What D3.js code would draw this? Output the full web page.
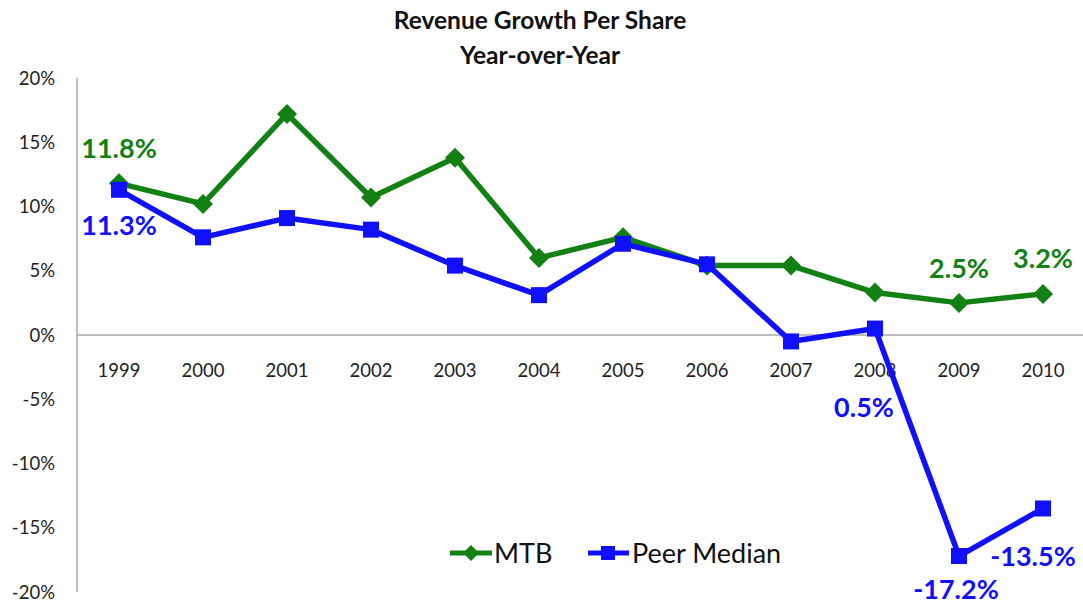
<!DOCTYPE html>
<html><head><meta charset="utf-8">
<script src="https://cdn.jsdelivr.net/npm/d3@7"></script>
<style>body{margin:0;background:#fff;} text{font-family:Lato,"Open Sans",sans-serif;}</style>
</head><body><svg id="c" width="1083" height="606"></svg>
<script>
const years = ["1999","2000","2001","2002","2003","2004","2005","2006","2007","2008","2009","2010"];
const mtb = [11.8,10.2,17.2,10.7,13.8,6.0,7.6,5.4,5.4,3.3,2.5,3.2];
const peer = [11.3,7.6,9.1,8.2,5.4,3.1,7.1,5.5,-0.5,0.5,-17.2,-13.5];
const yTicks = [20,15,10,5,0,-5,-10,-15,-20];
const mtbLabels = [[0,"11.8%"],[10,"2.5%"],[11,"3.2%"]];
const peerLabels = [[0,"11.3%"],[9,"0.5%"],[10,"-17.2%"],[11,"-13.5%"]];
const GREEN="#138013", BLUE="#1010ff";

const svg=d3.select("#c");
const x=d3.scaleBand().domain(years).range([77,1085]);
const y=d3.scaleLinear().domain([-20,20]).range([592,78]);
const cx=d=>x(d)+x.bandwidth()/2;

svg.append("text").attr("x",540).attr("y",29).attr("text-anchor","middle").attr("font-size",24.5).attr("font-weight","bold").attr("fill","#111").text("Revenue Growth Per Share");
svg.append("text").attr("x",540).attr("y",64).attr("text-anchor","middle").attr("font-size",24.5).attr("font-weight","bold").attr("fill","#111").text("Year-over-Year");

// y axis
svg.append("line").attr("x1",77).attr("x2",77).attr("y1",y(20)).attr("y2",y(-20)).attr("stroke","#aaa").attr("stroke-width",1.5);
svg.append("line").attr("x1",77).attr("x2",1085).attr("y1",y(0)).attr("y2",y(0)).attr("stroke","#aaa").attr("stroke-width",1.5);
svg.selectAll(".yt").data(yTicks).join("text").attr("x",55).attr("y",d=>y(d)+6.5).attr("text-anchor","end").attr("font-size",18.5).attr("fill","#222").text(d=>d+"%");
svg.selectAll(".xt").data(years).join("text").attr("x",d=>cx(d)).attr("y",y(0)+42).attr("text-anchor","middle").attr("font-size",18.5).attr("fill","#222").text(d=>d);

const line=d3.line().x((d,i)=>cx(years[i])).y(d=>y(d));
svg.append("path").attr("d",line(mtb)).attr("fill","none").attr("stroke",GREEN).attr("stroke-width",5.5).attr("stroke-linejoin","round");
svg.append("path").attr("d",line(peer)).attr("fill","none").attr("stroke",BLUE).attr("stroke-width",5.5).attr("stroke-linejoin","round");
const diamond=(px,py,r)=>`M${px},${py-r}L${px+r},${py}L${px},${py+r}L${px-r},${py}Z`;
svg.selectAll(".dm").data(mtb).join("path").attr("d",(d,i)=>diamond(cx(years[i]),y(d),10)).attr("fill",GREEN);
svg.selectAll(".sq").data(peer).join("rect").attr("x",(d,i)=>cx(years[i])-8).attr("y",d=>y(d)-8).attr("width",16).attr("height",16).attr("fill",BLUE);

// data labels
const mOff={0:[0,-25],10:[0,-25],11:[0,-26]};
const pOff={0:[0,45],9:[-11,88],10:[-3,43],11:[-10,58]};
svg.selectAll(".ml").data(mtbLabels).join("text").attr("x",d=>cx(years[d[0]])+mOff[d[0]][0]).attr("y",d=>y(mtb[d[0]])+mOff[d[0]][1]).attr("text-anchor","middle").attr("font-size",27).attr("font-weight","bold").attr("fill",GREEN).text(d=>d[1]);
svg.selectAll(".pl").data(peerLabels).join("text").attr("x",d=>cx(years[d[0]])+pOff[d[0]][0]).attr("y",d=>y(peer[d[0]])+pOff[d[0]][1]).attr("text-anchor","middle").attr("font-size",27).attr("font-weight","bold").attr("fill",BLUE).text(d=>d[1]);

// legend
const lg=svg.append("g");
lg.append("line").attr("x1",450).attr("x2",492).attr("y1",553).attr("y2",553).attr("stroke",GREEN).attr("stroke-width",5);
lg.append("path").attr("d",diamond(471,553,8)).attr("fill",GREEN);
lg.append("text").attr("x",494).attr("y",562.5).attr("font-size",27).attr("fill","#111").text("MTB");
lg.append("line").attr("x1",588).attr("x2",629).attr("y1",553).attr("y2",553).attr("stroke",BLUE).attr("stroke-width",5);
lg.append("rect").attr("x",601).attr("y",546).attr("width",14).attr("height",14).attr("fill",BLUE);
lg.append("text").attr("x",632).attr("y",562.5).attr("font-size",27).attr("fill","#111").text("Peer Median");
</script></body></html>
